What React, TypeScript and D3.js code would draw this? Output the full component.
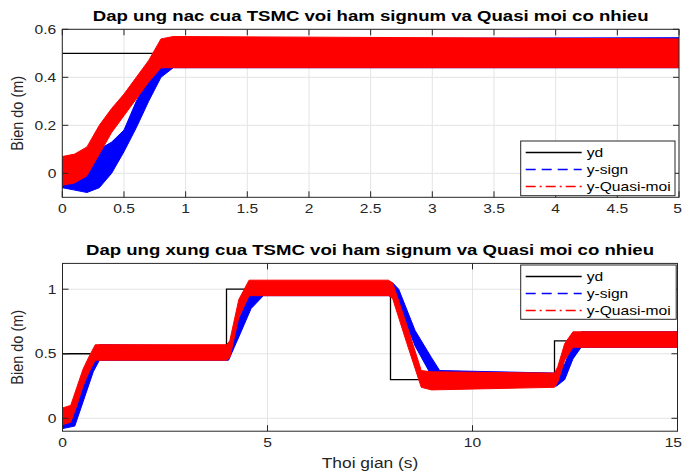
import React from 'react';
import * as d3 from 'd3';

// ---------- Data ----------
// Top: step response
const stepYdT = [0, 5];
const stepYdV = [0.5, 0.5];

const stepSignT = [0, 0.1, 0.2, 0.3, 0.4, 0.5, 0.6, 0.7, 0.8, 0.9, 5];
const stepSignLo = [-0.06, -0.07, -0.08, -0.06, 0.0, 0.09, 0.19, 0.3, 0.4, 0.44, 0.44];
const stepSignHi = [0.05, 0.05, 0.06, 0.1, 0.13, 0.18, 0.3, 0.4, 0.5, 0.56, 0.565];

const stepQuasiT = [0, 0.1, 0.2, 0.3, 0.4, 0.5, 0.6, 0.7, 0.8, 0.9, 5];
const stepQuasiLo = [-0.05, -0.04, -0.01, 0.08, 0.17, 0.24, 0.31, 0.38, 0.44, 0.44, 0.44];
const stepQuasiHi = [0.07, 0.08, 0.11, 0.2, 0.27, 0.33, 0.4, 0.47, 0.56, 0.57, 0.56];

// Bottom: pulse response
const pulseYdT = [0, 4, 4, 8, 8, 12, 12, 15];
const pulseYdV = [0.5, 0.5, 1, 1, 0.3, 0.3, 0.6, 0.6];

const pulseSignT = [0, 0.3, 0.45, 0.6, 0.75, 0.9, 4.05, 4.3, 4.6, 4.9, 8.05, 8.2, 8.6, 9.0, 9.2, 12.05, 12.25, 12.45, 12.65, 15];
const pulseSignLo = [-0.08, -0.06, 0.08, 0.22, 0.36, 0.45, 0.45, 0.63, 0.85, 0.95, 0.95, 0.88, 0.56, 0.33, 0.25, 0.25, 0.3, 0.46, 0.55, 0.55];
const pulseSignHi = [0.05, 0.06, 0.2, 0.35, 0.48, 0.57, 0.56, 0.77, 0.98, 1.06, 1.05, 1.0, 0.68, 0.47, 0.37, 0.35, 0.42, 0.58, 0.67, 0.67];

const pulseQuasiT = [0, 0.2, 0.35, 0.5, 0.65, 0.8, 4.0, 4.08, 4.3, 4.55, 7.95, 8.05, 8.4, 8.75, 9.0, 12.0, 12.08, 12.25, 12.45, 15];
const pulseQuasiLo = [-0.05, -0.03, 0.1, 0.25, 0.36, 0.45, 0.45, 0.47, 0.78, 0.95, 0.95, 0.93, 0.58, 0.24, 0.22, 0.24, 0.28, 0.45, 0.55, 0.55];
const pulseQuasiHi = [0.08, 0.1, 0.24, 0.38, 0.48, 0.57, 0.57, 0.6, 0.92, 1.07, 1.07, 1.05, 0.72, 0.37, 0.36, 0.35, 0.4, 0.58, 0.67, 0.67];

const topXTicks = [0, 0.5, 1, 1.5, 2, 2.5, 3, 3.5, 4, 4.5, 5];
const topYTicks = [0, 0.2, 0.4, 0.6];
const botXTicks = [0, 5, 10, 15];
const botYTicks = [0, 0.5, 1];

const legendLabels = ['yd', 'y-sign', 'y-Quasi-moi'];
const titles = [
  'Dap ung nac cua TSMC voi ham signum va Quasi moi co nhieu',
  'Dap ung xung cua TSMC voi ham signum va Quasi moi co nhieu',
];

const FONT = "'Liberation Sans', Arial, Helvetica, sans-serif";
const SX = 1.2;
const AXC = '#262626';
const W = 683;

type Band = { t: number[]; lo: number[]; hi: number[]; color: string };

function Panel(props: {
  id: string;
  x0: number; x1: number; y0: number; y1: number;
  xDom: [number, number]; yDom: [number, number];
  xTicks: number[]; yTicks: number[];
  ydT: number[]; ydV: number[];
  bands: Band[];
  title: string;
  legendBox: { x: number; y: number; w: number; h: number };
}) {
  const { id, x0, x1, y0, y1, xDom, yDom, xTicks, yTicks, ydT, ydV, bands, title, legendBox } = props;
  const x = d3.scaleLinear().domain(xDom).range([x0, x1]);
  const y = d3.scaleLinear().domain(yDom).range([y1, y0]);
  const bandPath = (b: Band) => {
    const idx = b.t.map((_, i) => i);
    return d3.area<number>()
      .x((i) => x(b.t[i]))
      .y0((i) => y(b.lo[i]))
      .y1((i) => y(b.hi[i]))(idx) || '';
  };
  const line = d3.line<number>().x((i) => x(ydT[i])).y((i) => y(ydV[i]));
  const ydPath = line(ydT.map((_, i) => i)) || '';
  const cx = (x0 + x1) / 2;
  const cy = (y0 + y1) / 2;
  const tl = 6;
  const lx = legendBox.x, ly = legendBox.y;
  const rowY = [legendBox.y + 11.5, legendBox.y + 28.5, legendBox.y + 45.5];
  const tickLabelX = (t: number) => {
    const s = String(t);
    const half = (s.length * 7.2 * SX) / 2;
    const px = x(t);
    if (px + half > W - 1) return { px: W - 1, anchor: 'end' as const };
    return { px, anchor: 'middle' as const };
  };
  return (
    <g>
      <defs>
        <clipPath id={id}>
          <rect x={x0} y={y0} width={x1 - x0} height={y1 - y0} />
        </clipPath>
      </defs>
      <rect x={x0} y={y0} width={x1 - x0} height={y1 - y0} fill="#fff" />
      {xTicks.map((t) => (
        <line key={'gx' + t} x1={x(t)} x2={x(t)} y1={y0} y2={y1} stroke="#e4e4e4" strokeWidth={1} />
      ))}
      {yTicks.map((t) => (
        <line key={'gy' + t} x1={x0} x2={x1} y1={y(t)} y2={y(t)} stroke="#e4e4e4" strokeWidth={1} />
      ))}
      <g clipPath={`url(#${id})`}>
        <path d={ydPath} fill="none" stroke="#000" strokeWidth={1.3} />
        {bands.map((b, i) => (
          <path key={i} d={bandPath(b)} fill={b.color} stroke={b.color} strokeWidth={1} />
        ))}
      </g>
      <rect x={x0} y={y0} width={x1 - x0} height={y1 - y0} fill="none" stroke={AXC} strokeWidth={1} />
      {xTicks.map((t) => {
        const p = tickLabelX(t);
        return (
          <g key={'tx' + t}>
            <line x1={x(t)} x2={x(t)} y1={y1} y2={y1 - tl} stroke={AXC} />
            <line x1={x(t)} x2={x(t)} y1={y0} y2={y0 + tl} stroke={AXC} />
            <text transform={`translate(${p.px},${y1 + 16}) scale(${SX},1)`} textAnchor={p.anchor} fontSize={13} fill={AXC} fontFamily={FONT}>
              {String(t)}
            </text>
          </g>
        );
      })}
      {yTicks.map((t) => (
        <g key={'ty' + t}>
          <line x1={x0} x2={x0 + tl} y1={y(t)} y2={y(t)} stroke={AXC} />
          <line x1={x1} x2={x1 - tl} y1={y(t)} y2={y(t)} stroke={AXC} />
          <text transform={`translate(${x0 - 6},${y(t) + 4.5}) scale(${SX},1)`} textAnchor="end" fontSize={13} fill={AXC} fontFamily={FONT}>
            {String(t)}
          </text>
        </g>
      ))}
      <text transform={`translate(${cx},${y0 - 8}) scale(${SX},1)`} textAnchor="middle" fontSize={15.5} fontWeight="bold" fill="#000" fontFamily={FONT}>
        {title}
      </text>
      <text transform={`translate(${23},${cy}) scale(${SX},1) rotate(-90)`} textAnchor="middle" fontSize={14.5} fill={AXC} fontFamily={FONT}>
        Bien do (m)
      </text>
      <rect x={lx} y={ly} width={legendBox.w} height={legendBox.h} fill="#fff" stroke={AXC} strokeWidth={1} />
      <line x1={lx + 5} x2={lx + 61} y1={rowY[0]} y2={rowY[0]} stroke="#000" strokeWidth={1.3} />
      <line x1={lx + 5} x2={lx + 61} y1={rowY[1]} y2={rowY[1]} stroke="#0000ff" strokeWidth={1.3} strokeDasharray="10,6" />
      <line x1={lx + 5} x2={lx + 61} y1={rowY[2]} y2={rowY[2]} stroke="#ff0000" strokeWidth={1.3} strokeDasharray="10,4,2,4" />
      {legendLabels.map((l, i) => (
        <text key={l} transform={`translate(${lx + 66},${rowY[i] + 4.5}) scale(${SX},1)`} fontSize={13} fill="#000" fontFamily={FONT}>
          {l}
        </text>
      ))}
    </g>
  );
}

export default function App() {
  return (
    <svg width={683} height={475} style={{ position: 'absolute', left: 0, top: 0, background: '#fff' }}>
      <rect x={0} y={0} width={683} height={475} fill="#fff" />
      <Panel
        id="clipTop"
        x0={62.3} x1={679} y0={29.3} y1={197.3}
        xDom={[0, 5]} yDom={[-0.1, 0.6]}
        xTicks={topXTicks} yTicks={topYTicks}
        ydT={stepYdT} ydV={stepYdV}
        bands={[
          { t: stepSignT, lo: stepSignLo, hi: stepSignHi, color: '#0000ff' },
          { t: stepQuasiT, lo: stepQuasiLo, hi: stepQuasiHi, color: '#ff0000' },
        ]}
        title={titles[0]}
        legendBox={{ x: 520.7, y: 141, w: 154.3, h: 54.7 }}
      />
      <Panel
        id="clipBot"
        x0={62.5} x1={677.5} y0={263.4} y1={431.2}
        xDom={[0, 15]} yDom={[-0.1, 1.2]}
        xTicks={botXTicks} yTicks={botYTicks}
        ydT={pulseYdT} ydV={pulseYdV}
        bands={[
          { t: pulseSignT, lo: pulseSignLo, hi: pulseSignHi, color: '#0000ff' },
          { t: pulseQuasiT, lo: pulseQuasiLo, hi: pulseQuasiHi, color: '#ff0000' },
        ]}
        title={titles[1]}
        legendBox={{ x: 520.7, y: 265, w: 155.5, h: 54.3 }}
      />
      <text transform={`translate(${370},${468}) scale(${SX},1)`} textAnchor="middle" fontSize={14.5} fill={AXC} fontFamily={FONT}>
        Thoi gian (s)
      </text>
    </svg>
  );
}
